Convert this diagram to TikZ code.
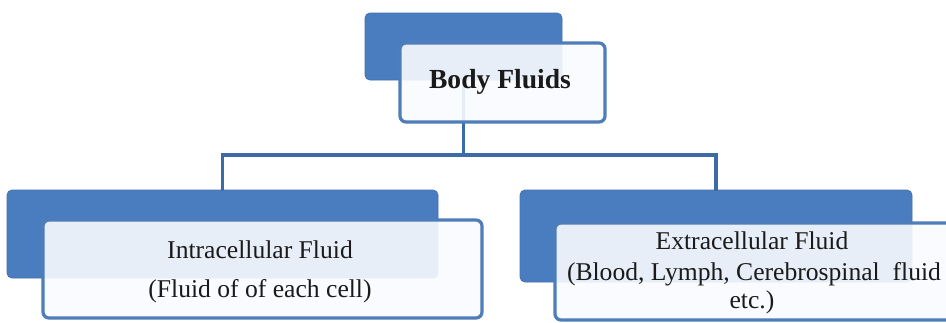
\documentclass[tikz,border=0pt]{standalone}
\usepackage{fontspec}
\setmainfont{Liberation Serif}
\definecolor{backblue}{HTML}{4A7DC0}
\definecolor{edgeblue}{HTML}{4E7DBA}
\definecolor{lineblue}{HTML}{3D6BA8}
\definecolor{frontfill}{HTML}{F9FBFE}
\definecolor{txt}{HTML}{1A1A1A}
\tikzset{
  backbox/.style={rectangle, rounded corners=5pt, fill=backblue, draw=backblue!90!black, line width=0.8pt, inner sep=0pt},
  frontbox/.style={rectangle, rounded corners=6pt, fill=frontfill, fill opacity=0.9, draw=edgeblue, line width=3.2pt, inner sep=0pt},
  connector/.style={draw=lineblue, line width=3.2pt},
  lbl/.style={text=txt, inner sep=0pt, font=\fontsize{25.6}{28}\selectfont},
  title/.style={text=txt, inner sep=0pt, font=\fontsize{27.6}{30}\selectfont\bfseries}
}
\begin{document}
\begin{tikzpicture}[x=1pt,y=-1pt]
\clip (0,0) rectangle (946,322);
\fill[white] (0,0) rectangle (946,322);
% back boxes
\node[backbox, minimum width=197pt, minimum height=67pt] (topback) at (463.5,46.5) {};
\node[backbox, minimum width=431pt, minimum height=88pt] (leftback) at (222.5,234) {};
\node[backbox, minimum width=392pt, minimum height=92pt] (rightback) at (716,236) {};
% connectors
\coordinate (junction) at (463.5,155);
\draw[connector] (topback.south) -- (junction);
\draw[connector, line cap=rect] (junction) -| (leftback.north);
\draw[connector, line cap=rect] (junction) -| (rightback.north);
% front boxes
\node[frontbox, minimum width=205pt, minimum height=79pt] (topfront) at (502.5,82.5) {};
\node[frontbox, minimum width=439pt, minimum height=98pt] (leftfront) at (262.5,269) {};
\node[frontbox, minimum width=404pt, minimum height=97pt] (rightfront) at (757,271.5) {};
% texts
\node[title] (ttop) at (500,82) {Body Fluids};
\node[lbl] (tl1) at (260,250) {Intracellular Fluid};
\node[lbl] (tl2) at (260,291) {(Fluid of of each cell)};
\node[lbl] (tr1) at (752,241) {Extracellular Fluid};
\node[lbl] (tr2) at (754,274) {(Blood, Lymph, Cerebrospinal~ fluid};
\node[lbl] (tr3) at (752,302) {etc.)};
\end{tikzpicture}
\end{document}
